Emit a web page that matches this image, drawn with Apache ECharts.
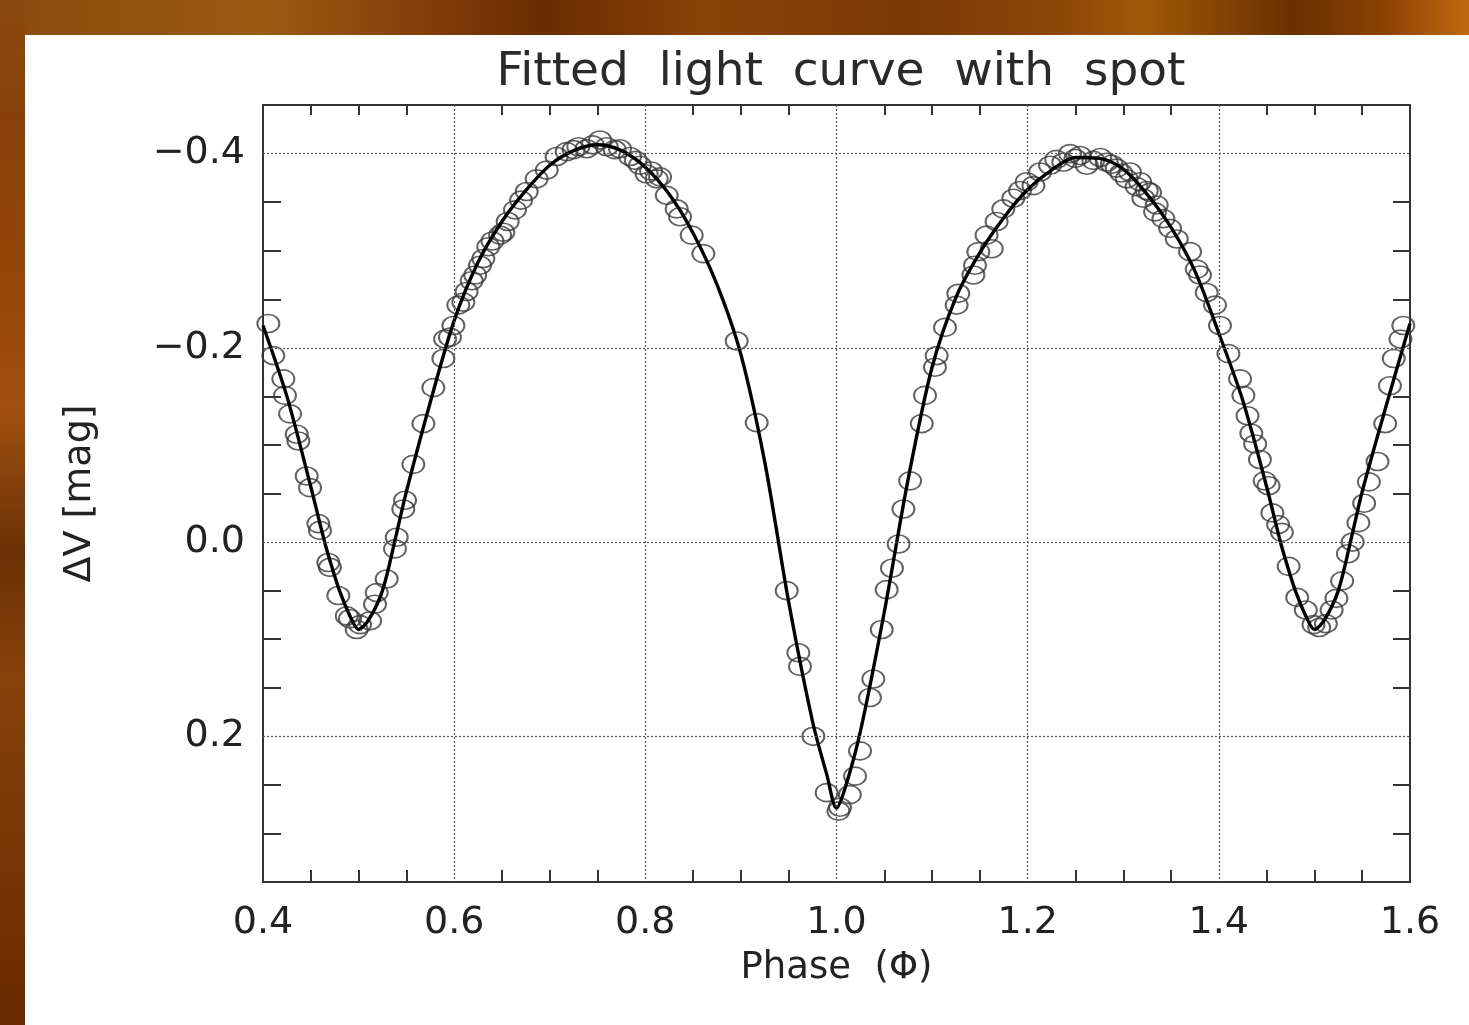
<!DOCTYPE html>
<html>
<head>
<meta charset="utf-8">
<script src="https://cdn.jsdelivr.net/npm/echarts/dist/echarts.min.js"></script>
<style>
  html, body { margin: 0; padding: 0; width: 1469px; height: 1025px; overflow: hidden; }
  body {
    background:
      linear-gradient(90deg, #8a4a0e 0%, #9a5a12 18%, #86400a 28%, #6a2c02 37%, #8a4206 48%, #7a3a04 62%, #8e4608 72%, #a05808 78%, #6a3000 88%, #8a4004 94%, #c06a10 100%);
  }
  #leftStrip {
    position: absolute; left: 0; top: 0; width: 25px; height: 1025px;
    background: linear-gradient(180deg, #8a4a0e 0%, #8a4008 12%, #96480a 30%, #a05010 40%, #6a3004 54%, #88420a 66%, #7a3a06 78%, #6a2a00 100%);
  }
  #panel { position: absolute; left: 25px; top: 35px; right: 0; bottom: 0; background: #ffffff; }
  #chart { position: absolute; left: 0; top: 0; width: 1469px; height: 1025px; }
</style>
</head>
<body>
<div id="leftStrip"></div>
<div id="panel"></div>
<div id="chart"></div>
<script>
// ---- axis ticks / labels ----
const xMajor = [0.4, 0.6, 0.8, 1.0, 1.2, 1.4, 1.6];
const xMinor = [0.45, 0.5, 0.55, 0.65, 0.7, 0.75, 0.85, 0.9, 0.95, 1.05, 1.1, 1.15, 1.25, 1.3, 1.35, 1.45, 1.5, 1.55];
const xGrid = [0.6, 0.8, 1.0, 1.2, 1.4];
const yMajor = [-0.4, -0.2, 0.0, 0.2];
const yMinor = [-0.35, -0.3, -0.25, -0.15, -0.1, -0.05, 0.05, 0.1, 0.15, 0.25, 0.3];

// ---- fitted light curve ----
const fitPhase = [0.400, 0.425, 0.450, 0.465, 0.475, 0.480, 0.490, 0.500, 0.510, 0.525, 0.540, 0.550, 0.575,
  0.600, 0.625, 0.650, 0.675, 0.700, 0.725, 0.750, 0.775, 0.800, 0.825, 0.850, 0.875, 0.900, 0.925, 0.950,
  0.975, 0.990, 1.000, 1.010, 1.025, 1.050, 1.075, 1.100, 1.125, 1.150, 1.175, 1.200, 1.225, 1.250, 1.275,
  1.300, 1.325, 1.350, 1.375, 1.400, 1.425, 1.450, 1.465, 1.475, 1.480, 1.490, 1.500, 1.510, 1.525, 1.540,
  1.550, 1.575, 1.600];
const fitDV = [-0.223, -0.150, -0.057, 0.002, 0.035, 0.050, 0.074, 0.090, 0.081, 0.050, -0.010, -0.052, -0.144,
  -0.228, -0.288, -0.330, -0.362, -0.388, -0.403, -0.409, -0.403, -0.386, -0.358, -0.318, -0.265, -0.193, -0.082, 0.062,
  0.185, 0.240, 0.274, 0.250, 0.195, 0.072, -0.065, -0.180, -0.252, -0.298, -0.334, -0.363, -0.383, -0.396, -0.395,
  -0.384, -0.358, -0.324, -0.279, -0.215, -0.146, -0.057, 0.002, 0.035, 0.050, 0.074, 0.090, 0.081, 0.050, -0.010,
  -0.052, -0.140, -0.225];

// ---- observations ----
const obsPhase = [0.4056, 0.4108, 0.4213, 0.4230, 0.4283, 0.4353, 0.4370, 0.4457, 0.4492, 0.4579, 0.4596, 0.4683,
  0.4700, 0.4788, 0.4876, 0.4910, 0.4980, 0.5015, 0.5120, 0.5172, 0.5190, 0.5294, 0.5381, 0.5399, 0.5468, 0.5486,
  0.5573, 0.5678, 0.5782, 0.5887, 0.5905, 0.5956, 0.5992, 0.6043, 0.6096, 0.6130, 0.6183, 0.6220, 0.6270, 0.6305,
  0.6357, 0.6400, 0.6480, 0.6514, 0.6560, 0.6636, 0.6700, 0.6759, 0.6863, 0.6968, 0.7072, 0.7177, 0.7250, 0.7299,
  0.7386, 0.7450, 0.7526, 0.7596, 0.7680, 0.7735, 0.7840, 0.7900, 0.7944, 0.8014, 0.8060, 0.8119, 0.8154, 0.8224,
  0.8328, 0.8363, 0.8485, 0.8607, 0.8956, 0.9165, 0.9479, 0.9601, 0.9618, 0.9758, 0.9897, 1.0020, 1.0037, 1.0140,
  1.0194, 1.0246, 1.0350, 1.0385, 1.0473, 1.0525, 1.0580, 1.0650, 1.0700, 1.0770, 1.0892, 1.0926, 1.1030, 1.1048,
  1.1135, 1.1257, 1.1274, 1.1432, 1.1449, 1.1484, 1.1570, 1.1624, 1.1675, 1.1745, 1.1850, 1.1920, 1.1990, 1.2060,
  1.2130, 1.2234, 1.2300, 1.2373, 1.2443, 1.2500, 1.2548, 1.2618, 1.2687, 1.2760, 1.2827, 1.2880, 1.2932, 1.2980,
  1.3036, 1.3070, 1.3140, 1.3176, 1.3210, 1.3246, 1.3280, 1.3333, 1.3350, 1.3420, 1.3490, 1.3560, 1.3699, 1.3769,
  1.3803, 1.3873, 1.3960, 1.4012, 1.4100, 1.4222, 1.4257, 1.4300, 1.4340, 1.4380, 1.4430, 1.4480, 1.4520, 1.4560,
  1.4620, 1.4660, 1.4730, 1.4820, 1.4910, 1.4990, 1.5050, 1.5120, 1.5180, 1.5230, 1.5290, 1.5350, 1.5400, 1.5460,
  1.5520, 1.5570, 1.5660, 1.5740, 1.5790, 1.5830, 1.5900, 1.5930];
const obsDV = [-0.225, -0.192, -0.168, -0.151, -0.132, -0.111, -0.104, -0.068, -0.056, -0.019, -0.012, 0.021,
  0.026, 0.055, 0.076, 0.079, 0.090, 0.085, 0.081, 0.064, 0.052, 0.038, 0.007, -0.005, -0.034, -0.043,
  -0.080, -0.122, -0.159, -0.189, -0.209, -0.211, -0.223, -0.244, -0.247, -0.258, -0.269, -0.275, -0.285, -0.292,
  -0.304, -0.310, -0.316, -0.319, -0.330, -0.342, -0.352, -0.361, -0.374, -0.383, -0.397, -0.402, -0.404, -0.407,
  -0.405, -0.409, -0.414, -0.407, -0.404, -0.405, -0.397, -0.393, -0.388, -0.379, -0.382, -0.374, -0.376, -0.357,
  -0.343, -0.335, -0.316, -0.297, -0.207, -0.123, 0.050, 0.114, 0.128, 0.200, 0.258, 0.277, 0.273, 0.260,
  0.241, 0.215, 0.160, 0.141, 0.090, 0.049, 0.027, 0.002, -0.034, -0.063, -0.122, -0.151, -0.180, -0.192,
  -0.221, -0.244, -0.256, -0.275, -0.285, -0.299, -0.316, -0.302, -0.330, -0.343, -0.354, -0.362, -0.371, -0.367,
  -0.381, -0.388, -0.394, -0.391, -0.400, -0.395, -0.398, -0.388, -0.393, -0.396, -0.391, -0.389, -0.385, -0.380,
  -0.374, -0.381, -0.366, -0.371, -0.354, -0.362, -0.360, -0.340, -0.347, -0.333, -0.323, -0.312, -0.299, -0.281,
  -0.275, -0.257, -0.244, -0.223, -0.194, -0.168, -0.151, -0.130, -0.112, -0.101, -0.085, -0.063, -0.058, -0.030,
  -0.018, -0.010, 0.025, 0.057, 0.070, 0.085, 0.088, 0.084, 0.070, 0.058, 0.040, 0.012, 0.000, -0.020,
  -0.040, -0.062, -0.083, -0.122, -0.161, -0.189, -0.209, -0.223];

const FONT = '"DejaVu Sans", sans-serif';
const fmt = v => (v < 0 ? '\u2212' : '') + Math.abs(v).toFixed(1);

const chart = echarts.init(document.getElementById('chart'), null, { renderer: 'canvas' });

const baseX = {
  type: 'value', min: 0.4, max: 1.6, interval: 0.2,
  axisLine: { show: true, onZero: false, lineStyle: { color: '#333', width: 2 } },
  splitLine: { show: false }
};
const baseY = {
  type: 'value', min: -0.45, max: 0.35, interval: 0.05, inverse: true,
  axisLine: { show: true, onZero: false, lineStyle: { color: '#333', width: 2 } },
  splitLine: { show: false }
};

const option = {
  animation: false,
  title: {
    text: 'Fitted  light  curve  with  spot',
    left: 836, top: 44, textAlign: 'center',
    textStyle: { fontFamily: FONT, fontSize: 47, fontWeight: 'normal', color: '#2a2a2a' }
  },
  grid: { left: 263, top: 105, right: 59, bottom: 143, containLabel: false },
  xAxis: [
    Object.assign({}, baseX, {
      position: 'bottom',
      name: 'Phase  (\u03A6)', nameLocation: 'middle', nameGap: 68,
      nameTextStyle: { fontFamily: FONT, fontSize: 37, color: '#222' },
      axisTick: { show: true, inside: true, length: 12, customValues: xMinor, lineStyle: { color: '#333', width: 2 } },
      axisLabel: { show: true, customValues: xMajor, margin: 22, formatter: fmt,
        fontFamily: FONT, fontSize: 38, color: '#222' }
    }),
    Object.assign({}, baseX, {
      position: 'top',
      axisTick: { show: true, inside: true, length: 10, customValues: xMinor, lineStyle: { color: '#333', width: 2 } },
      axisLabel: { show: false }
    })
  ],
  yAxis: [
    Object.assign({}, baseY, {
      position: 'left',
      name: '\u0394V [mag]', nameLocation: 'middle', nameGap: 164,
      nameTextStyle: { fontFamily: FONT, fontSize: 38, color: '#222' },
      axisTick: { show: true, inside: true, length: 18, customValues: yMinor, lineStyle: { color: '#333', width: 2 } },
      axisLabel: { show: true, customValues: yMajor, margin: 18, formatter: fmt,
        fontFamily: FONT, fontSize: 38, color: '#222' }
    }),
    Object.assign({}, baseY, {
      position: 'right',
      axisTick: { show: true, inside: true, length: 17, customValues: yMinor, lineStyle: { color: '#333', width: 2 } },
      axisLabel: { show: false }
    })
  ],
  series: [
    {
      name: 'observed', type: 'scatter',
      xAxisIndex: 0, yAxisIndex: 0,
      data: obsPhase.map((p, i) => [p, obsDV[i]]),
      symbol: 'circle', symbolSize: [22, 18],
      itemStyle: { color: 'rgba(0,0,0,0)', borderColor: '#3a3a3a', borderWidth: 1.8 },
      z: 3
    },
    {
      name: 'fit', type: 'line',
      xAxisIndex: 0, yAxisIndex: 0,
      data: fitPhase.map((p, i) => [p, fitDV[i]]),
      smooth: 0.3, showSymbol: false,
      lineStyle: { color: '#000', width: 3.4 },
      z: 4,
      markLine: {
        silent: true, symbol: ['none', 'none'], label: { show: false },
        lineStyle: { type: [2, 2], color: '#555', width: 1.2 },
        data: xGrid.map(v => ({ xAxis: v })).concat(yMajor.map(v => ({ yAxis: v })))
      }
    }
  ]
};
chart.setOption(option);
</script>
</body>
</html>
